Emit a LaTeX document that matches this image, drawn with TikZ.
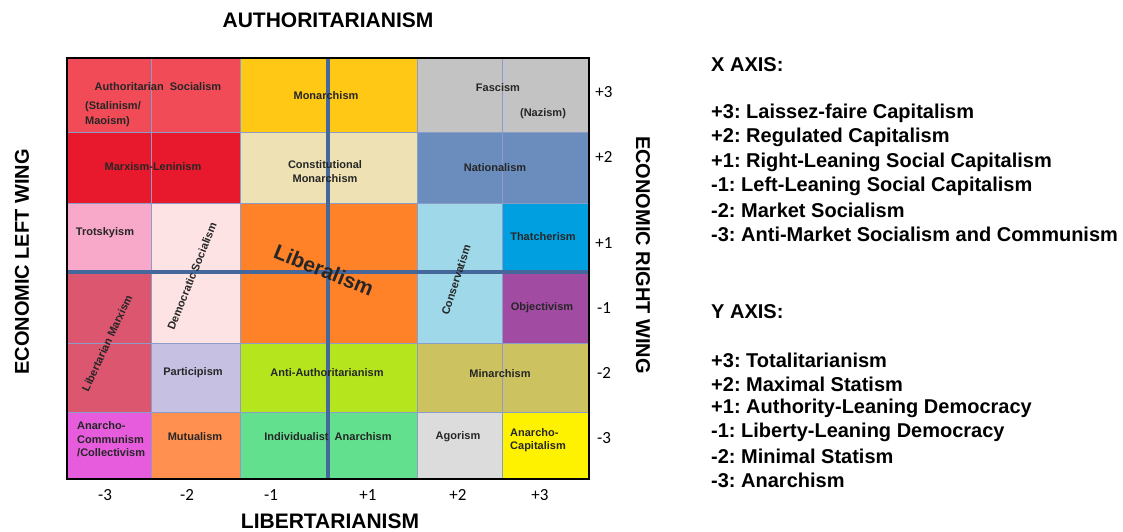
\documentclass[tikz,border=0pt]{standalone}
\usepackage{fontspec}
\setmainfont{Liberation Sans}
\newfontfamily\numfont{Carlito}
\usetikzlibrary{positioning}
\frenchspacing

\definecolor{authsoc}{HTML}{F04B57}
\definecolor{marxlen}{HTML}{E8192C}
\definecolor{monarch}{HTML}{FFC814}
\definecolor{constmon}{HTML}{EEE2B4}
\definecolor{fascism}{HTML}{C3C3C3}
\definecolor{nation}{HTML}{6B8DBE}
\definecolor{trotsky}{HTML}{F8A8C8}
\definecolor{demsoc}{HTML}{FDE3E3}
\definecolor{liberal}{HTML}{FF8228}
\definecolor{conserv}{HTML}{9FD8E8}
\definecolor{thatcher}{HTML}{00A0E0}
\definecolor{libmarx}{HTML}{DC5670}
\definecolor{objectiv}{HTML}{A14BA3}
\definecolor{particip}{HTML}{C6C0E2}
\definecolor{antiauth}{HTML}{B5E61D}
\definecolor{minarch}{HTML}{CCC25F}
\definecolor{anarcom}{HTML}{E65CDD}
\definecolor{mutual}{HTML}{FF9050}
\definecolor{indiv}{HTML}{62E08E}
\definecolor{agorism}{HTML}{DCDCDC}
\definecolor{ancap}{HTML}{FFF200}
\definecolor{gridblue}{HTML}{8C9CC8}
\definecolor{axisblue}{HTML}{44689C}

\begin{document}
\begin{tikzpicture}[
    x=1pt, y=-1pt,
    cell/.style={font=\bfseries\fontsize{11}{14}\selectfont, text=black!85, inner sep=0pt, align=center},
    leftcell/.style={cell, align=left, anchor=west},
    tilted/.style={cell, rotate=#1},
    axisnum/.style={font=\numfont\fontsize{17}{19}\selectfont, inner sep=0pt},
    heading/.style={font=\bfseries\fontsize{21}{23}\selectfont, inner sep=0pt},
    legend/.style={font=\bfseries\fontsize{20}{24}\selectfont, anchor=west, inner sep=0pt},
    thinline/.style={draw=gridblue, line width=1pt},
    axisline/.style={draw=axisblue, line width=4pt}
]
\useasboundingbox (0,0) rectangle (1123,531);

% Cells, top row first
\fill[authsoc]  (67,58)   rectangle (240,132);
\fill[monarch]  (240,58)  rectangle (417,132);
\fill[fascism]  (417,58)  rectangle (589,132);
\fill[marxlen]  (67,132)  rectangle (240,203);
\fill[constmon] (240,132) rectangle (417,203);
\fill[nation]   (417,132) rectangle (589,203);
\fill[trotsky]  (67,203)  rectangle (151,272);
\fill[demsoc]   (151,203) rectangle (240,343);
\fill[liberal]  (240,203) rectangle (417,343);
\fill[conserv]  (417,203) rectangle (502,343);
\fill[thatcher] (502,203) rectangle (589,272);
\fill[libmarx]  (67,272)  rectangle (151,412);
\fill[objectiv] (502,272) rectangle (589,343);
\fill[particip] (151,343) rectangle (240,412);
\fill[antiauth] (240,343) rectangle (417,412);
\fill[minarch]  (417,343) rectangle (589,412);
\fill[anarcom]  (67,412)  rectangle (151,479);
\fill[mutual]   (151,412) rectangle (240,479);
\fill[indiv]    (240,412) rectangle (417,479);
\fill[agorism]  (417,412) rectangle (502,479);
\fill[ancap]    (502,412) rectangle (589,479);

% Grid and axes
\foreach \x in {151,240,417,502}
    \draw[thinline] (\x,58) -- (\x,479);
\foreach \y in {132,203,343,412}
    \draw[thinline] (67,\y) -- (589,\y);
\draw[axisline] (328,58) -- (328,479);
\draw[axisline] (67,272) -- (589,272);
\draw[black, line width=2pt] (67,58) rectangle (589,479);

% Cell labels
\node[cell] (authsocT) at (158,87) {Authoritarian\ \ Socialism};
\node[leftcell, font=\bfseries\fontsize{11}{15}\selectfont] (stalin) at (85,114.5) {(Stalinism/\\Maoism)};
\node[cell] (monarchT) at (326,96) {Monarchism};
\node[cell] (fascismT) at (498,88) {Fascism};
\node[cell] (nazism) at (543,114) {(Nazism)};
\node[cell] (marxlenT) at (153,167) {Marxism-Leninism};
\node[cell] (constmonT) at (325,172) {Constitutional\\Monarchism};
\node[cell] (nationT) at (495,168) {Nationalism};
\node[cell] (trotskyT) at (105,233) {Trotskyism};
\node[tilted=68] (demsocT) at (192,276) {Democratic Socialism};
\node[cell, rotate=-22, font=\bfseries\fontsize{21}{24}\selectfont] (liberalT) at (324,270) {Liberalism};
\node[tilted=72] (conservT) at (456,280) {Conservatism};
\node[cell] (thatcherT) at (543,237) {Thatcherism};
\node[tilted=65] (libmarxT) at (107,343) {Libertarian Marxism};
\node[cell] (objectivT) at (542,308) {Objectivism};
\node[cell] (participT) at (193,373) {Participism};
\node[cell] (antiauthT) at (327,373) {Anti-Authoritarianism};
\node[cell] (minarchT) at (500,374) {Minarchism};
\node[leftcell, font=\bfseries\fontsize{11}{13.5}\selectfont] (anarcomT) at (77,439.5) {Anarcho-\\Communism\\/Collectivism};
\node[cell] (mutualT) at (195,437) {Mutualism};
\node[cell] (indivT) at (328,437) {Individualist\ \ Anarchism};
\node[cell] (agorismT) at (458,437) {Agorism};
\node[leftcell, font=\bfseries\fontsize{11}{13}\selectfont] (ancapT) at (510,440.5) {Anarcho-\\Capitalism};

% Axis numbers
\foreach \n/\x in {1/105,2/187,3/271,4/368,5/458,6/540}
    \node[axisnum] (xnum\n) at (\x,495) {\ifcase\n\or -3\or -2\or -1\or +1\or +2\or +3\fi};
\foreach \n/\y in {1/92,2/157,3/243,4/308,5/373,6/438}
    \node[axisnum] (ynum\n) at (604,\y) {\ifcase\n\or +3\or +2\or +1\or -1\or -2\or -3\fi};

% Headings
\node[heading] (top) at (328,20) {AUTHORITARIANISM};
\node[heading] (bottom) at (330,521) {LIBERTARIANISM};
\node[heading, font=\bfseries\fontsize{20}{22}\selectfont, rotate=90] (leftwing) at (22,262) {ECONOMIC LEFT WING};
\node[heading, font=\bfseries\fontsize{20}{22}\selectfont, rotate=-90] (rightwing) at (643,255) {ECONOMIC RIGHT WING};

% Legend
\node[legend] (xhead) at (711,65) {X AXIS:};
\node[legend] (x1) at (711,113) {+3: Laissez-faire Capitalism};
\node[legend] (x2) at (711,137) {+2: Regulated Capitalism};
\node[legend] (x3) at (711,162) {+1: Right-Leaning Social Capitalism};
\node[legend] (x4) at (711,186) {-1: Left-Leaning Social Capitalism};
\node[legend] (x5) at (711,210) {-2: Market Socialism};
\node[legend] (x6) at (711,234) {-3: Anti-Market Socialism and Communism};
\node[legend] (yhead) at (711,312) {Y AXIS:};
\node[legend] (y1) at (711,360) {+3: Totalitarianism};
\node[legend] (y2) at (711,384) {+2: Maximal Statism};
\node[legend] (y3) at (711,408) {+1: Authority-Leaning Democracy};
\node[legend] (y4) at (711,432) {-1: Liberty-Leaning Democracy};
\node[legend] (y5) at (711,456) {-2: Minimal Statism};
\node[legend] (y6) at (711,480) {-3: Anarchism};
\end{tikzpicture}
\end{document}
